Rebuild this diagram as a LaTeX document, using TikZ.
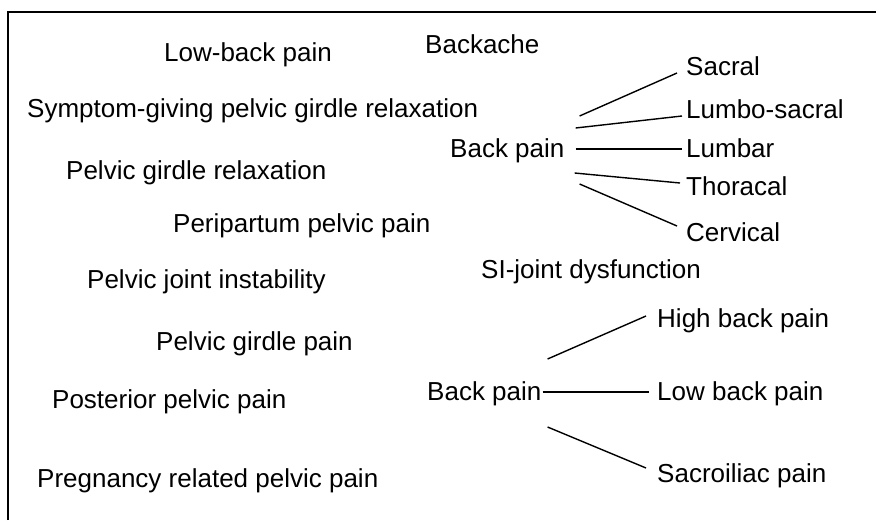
\documentclass[tikz,border=0pt]{standalone}
\usepackage{fontspec}
\setmainfont{Liberation Sans}
\usetikzlibrary{calc}

\begin{document}
\begin{tikzpicture}[
    x=1pt, y=-1pt,
    term/.style={anchor=base west, inner sep=0pt, font=\fontsize{26}{30}\selectfont},
    frame/.style={line width=1.6pt},
    link/.style={line width=1.4pt}]
  \useasboundingbox (0,0) rectangle (876,520);
  \draw[frame] (8,520) |- (876,12);
  % synonyms
  \node[term] (lowback) at (164,61) {Low-back pain};
  \node[term] (backache) at (425,53) {Backache};
  \node[term] (symptom) at (27,117) {Symptom-giving pelvic girdle relaxation};
  \node[term] (pgr) at (66,179) {Pelvic girdle relaxation};
  \node[term] (peripartum) at (173,232) {Peripartum pelvic pain};
  \node[term] (pji) at (87,288) {Pelvic joint instability};
  \node[term] (si) at (481,278) {SI-joint dysfunction};
  \node[term] (pgp) at (156,350) {Pelvic girdle pain};
  \node[term] (posterior) at (52,408) {Posterior pelvic pain};
  \node[term] (pregnancy) at (37,487) {Pregnancy related pelvic pain};
  % back pain by segment
  \node[term] (bp1) at (450,157) {Back pain};
  \node[term] (sacral) at (686,75) {Sacral};
  \node[term] (lumbosacral) at (686,118) {Lumbo-sacral};
  \node[term] (lumbar) at (686,157) {Lumbar};
  \node[term] (thoracal) at (686,195) {Thoracal};
  \node[term] (cervical) at (686,241) {Cervical};
  \foreach \t/\ax/\ay/\bx/\by in {sacral/15/-41/-9/-2, lumbosacral/11/-29/-4/-2,
      lumbar/11/-8/-4/-8, thoracal/10/16/-6/-12, cervical/15/27/-9/-15}
    \draw[link] ($(bp1.base east)+(\ax,\ay)$) -- ($(\t.base west)+(\bx,\by)$);
  % back pain by region
  \node[term] (bp2) at (427,400) {Back pain};
  \node[term] (high) at (657,327) {High back pain};
  \node[term] (low) at (657,400) {Low back pain};
  \node[term] (sacroiliac) at (657,482) {Sacroiliac pain};
  \foreach \t/\ax/\ay/\bx/\by in {high/6/-41/-11/-11, low/1/-8/-8/-8,
      sacroiliac/6/27/-11/-14}
    \draw[link] ($(bp2.base east)+(\ax,\ay)$) -- ($(\t.base west)+(\bx,\by)$);
\end{tikzpicture}
\end{document}
